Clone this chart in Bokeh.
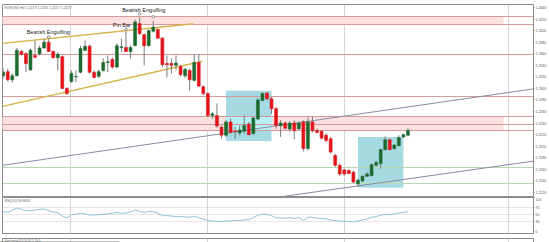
import numpy as np
from bokeh.plotting import figure
from bokeh.models import Range1d, FixedTicker, NumeralTickFormatter, Label
from bokeh.layouts import column
from bokeh.embed import file_html
from bokeh.resources import INLINE
from bokeh.core.properties import value

# ---------------- data (EURUSD, H4) ----------------
opens = [1.2322, 1.2329, 1.2315, 1.2322, 1.2364, 1.2360, 1.2332, 1.2357, 1.2360, 1.2370,
         1.2380, 1.2364, 1.2353, 1.2355, 1.2300, 1.2312, 1.2320, 1.2328, 1.2366, 1.2373,
         1.2328, 1.2321, 1.2331, 1.2345, 1.2350, 1.2337, 1.2371, 1.2371, 1.2364, 1.2374,
         1.2412, 1.2393, 1.2374, 1.2399, 1.2402, 1.2387, 1.2343, 1.2343, 1.2340, 1.2338,
         1.2322, 1.2331, 1.2314, 1.2345, 1.2303, 1.2291, 1.2253, 1.2253, 1.2233, 1.2219,
         1.2242, 1.2226, 1.2223, 1.2226, 1.2238, 1.2222, 1.2247, 1.2279, 1.2292, 1.2282,
         1.2265, 1.2236, 1.2240, 1.2230, 1.2240, 1.2230, 1.2242, 1.2196, 1.2242, 1.2227,
         1.2226, 1.2219, 1.2213, 1.2184, 1.2167, 1.2159, 1.2158, 1.2155, 1.2135, 1.2140,
         1.2148, 1.2149, 1.2167, 1.2170, 1.2194, 1.2211, 1.2196, 1.2201, 1.2216, 1.2219]
highs = [1.2334, 1.2334, 1.2326, 1.2370, 1.2367, 1.2363, 1.2369, 1.2383, 1.2374, 1.2386,
         1.2385, 1.2366, 1.2363, 1.2357, 1.2302, 1.2331, 1.2331, 1.2374, 1.2383, 1.2376,
         1.2331, 1.2333, 1.2352, 1.2357, 1.2354, 1.2378, 1.2386, 1.2398, 1.2374, 1.2419,
         1.2423, 1.2395, 1.2402, 1.2417, 1.2404, 1.2389, 1.2357, 1.2352, 1.2357, 1.2341,
         1.2335, 1.2334, 1.2359, 1.2359, 1.2305, 1.2293, 1.2259, 1.2274, 1.2236, 1.2245,
         1.2248, 1.2233, 1.2236, 1.2253, 1.2242, 1.2251, 1.2283, 1.2293, 1.2293, 1.2285,
         1.2268, 1.2245, 1.2243, 1.2243, 1.2245, 1.2243, 1.2245, 1.2250, 1.2251, 1.2231,
         1.2227, 1.2222, 1.2216, 1.2187, 1.2170, 1.2161, 1.2160, 1.2158, 1.2144, 1.2149,
         1.2155, 1.2170, 1.2175, 1.2196, 1.2217, 1.2213, 1.2204, 1.2219, 1.2222, 1.2231]
lows = [1.2317, 1.2312, 1.2310, 1.2321, 1.2357, 1.2328, 1.2331, 1.2352, 1.2357, 1.2369,
        1.2363, 1.2352, 1.2331, 1.2299, 1.2289, 1.2310, 1.2311, 1.2326, 1.2364, 1.2326,
        1.2318, 1.2318, 1.2329, 1.2328, 1.2334, 1.2335, 1.2363, 1.2363, 1.2352, 1.2373,
        1.2392, 1.2340, 1.2373, 1.2397, 1.2386, 1.2337, 1.2319, 1.2326, 1.2331, 1.2321,
        1.2318, 1.2296, 1.2312, 1.2302, 1.2288, 1.2250, 1.2248, 1.2232, 1.2213, 1.2216,
        1.2222, 1.2213, 1.2219, 1.2222, 1.2219, 1.2219, 1.2245, 1.2278, 1.2280, 1.2256,
        1.2230, 1.2216, 1.2229, 1.2225, 1.2212, 1.2229, 1.2191, 1.2193, 1.2224, 1.2222,
        1.2212, 1.2207, 1.2187, 1.2164, 1.2149, 1.2149, 1.2151, 1.2136, 1.2130, 1.2138,
        1.2147, 1.2148, 1.2165, 1.2161, 1.2193, 1.2193, 1.2194, 1.2200, 1.2215, 1.2217]
closes = [1.2328, 1.2315, 1.2322, 1.2366, 1.2359, 1.2343, 1.2366, 1.2354, 1.2370, 1.2380,
          1.2364, 1.2353, 1.2359, 1.2300, 1.2291, 1.2326, 1.2321, 1.2369, 1.2373, 1.2328,
          1.2319, 1.2329, 1.2345, 1.2346, 1.2337, 1.2374, 1.2372, 1.2364, 1.2371, 1.2415,
          1.2395, 1.2374, 1.2400, 1.2406, 1.2387, 1.2341, 1.2341, 1.2340, 1.2344, 1.2324,
          1.2333, 1.2315, 1.2345, 1.2304, 1.2291, 1.2253, 1.2256, 1.2235, 1.2219, 1.2242,
          1.2224, 1.2225, 1.2228, 1.2236, 1.2220, 1.2249, 1.2280, 1.2291, 1.2282, 1.2265,
          1.2236, 1.2240, 1.2231, 1.2240, 1.2227, 1.2240, 1.2196, 1.2242, 1.2227, 1.2224,
          1.2214, 1.2210, 1.2190, 1.2167, 1.2152, 1.2152, 1.2153, 1.2138, 1.2141, 1.2148,
          1.2152, 1.2168, 1.2172, 1.2194, 1.2211, 1.2194, 1.2202, 1.2215, 1.2220, 1.2227]
rsi = [58.8, 57.0, 63.0, 69.7, 65.6, 62.6, 61.8, 63.8, 65.6, 66.8,
       61.8, 58.0, 55.9, 45.6, 40.3, 50.0, 51.5, 53.8, 52.9, 49.4,
       49.1, 50.0, 50.9, 52.9, 53.8, 56.8, 54.4, 55.0, 57.9, 63.8,
       59.7, 56.8, 59.7, 58.8, 54.4, 47.1, 47.1, 46.2, 44.1, 44.1,
       43.5, 42.1, 45.6, 41.2, 36.8, 32.4, 31.5, 30.3, 29.4, 31.8,
       31.5, 32.4, 33.2, 34.4, 35.3, 41.2, 48.5, 52.0, 50.9, 47.1,
       40.3, 40.3, 39.7, 41.2, 39.1, 41.2, 33.2, 42.6, 42.1, 40.3,
       38.2, 37.4, 34.4, 32.4, 30.9, 30.3, 29.4, 29.4, 30.9, 34.4,
       37.4, 42.1, 44.1, 48.5, 50.9, 50.0, 52.0, 55.0, 56.8, 58.8]

price_ticks = [1.2440, 1.2420, 1.2400, 1.2380, 1.2360, 1.2340, 1.2320, 1.2300, 1.2280,
               1.2260, 1.2240, 1.2220, 1.2200, 1.2180, 1.2160, 1.2140, 1.2120]
rsi_ticks = [100, 70, 50, 30, 0]
rsi_levels = [70, 50, 30]

resistance_levels = [1.2424, 1.2411, 1.2359, 1.2286, 1.2251, 1.2238, 1.2228]
support_levels = [1.2163, 1.2136]
zone_tops = [1.2424, 1.2251]
zone_bottoms = [1.2411, 1.2228]
zone_end_bar = [110, 110]

box_start_bar = [49, 78]
box_end_bar = [59, 88]
box_tops = [1.2296, 1.2216]
box_bottoms = [1.2209, 1.2128]

gold_upper_bars = [-0.15, 41.8]
gold_upper_prices = [1.2378, 1.2412]
gold_lower_bars = [-0.15, 43.8]
gold_lower_prices = [1.2269, 1.2347]
channel_upper_bars = [-0.15, 117.3]
channel_upper_prices = [1.2167, 1.2300]
channel_lower_bars = [61.5, 117.3]
channel_lower_prices = [1.2113, 1.2175]

separator_bars = [14.9, 44.9, 75.1, 111.2]

pattern_labels = ["Bearish Engulfing", "Pin Bar", "Bearish Engulfing"]
pattern_label_bars = [9.9, 26.1, 30.9]
pattern_label_prices = [1.2397, 1.2409, 1.24365]
signal_bars = [10, 27, 30, 33]
signal_prices = [1.2389, 1.2402, 1.2429, 1.2424]

# ---------------- styling ----------------
FONT = "Liberation Sans"
GREEN = "#1d6a2f"
RED = "#e3141b"
WICK = "#7a7a7a"
FRAME = "#8c8c8c"
TICK_FS = "3.5px"

bars = np.arange(len(opens))
o = np.array(opens); c = np.array(closes)
body_top = np.maximum(o, c)
body_bot = np.minimum(o, c)
body_col = [GREEN if cc >= oo else RED for oo, cc in zip(opens, closes)]

x_range = Range1d(-0.15, 116.6)


def base_fig(height, y_range, top, bottom):
    f = figure(width=549, height=height, x_range=x_range, y_range=y_range,
               output_backend="svg", toolbar_location=None,
               x_axis_location=None, y_axis_location="right",
               min_border_left=2, min_border_right=13,
               min_border_top=top, min_border_bottom=bottom,
               background_fill_color="white", border_fill_color="white",
               outline_line_color=FRAME, outline_line_width=1)
    f.grid.visible = False
    ax = f.yaxis[0]
    ax.major_label_text_font_size = TICK_FS
    ax.major_label_text_font = FONT
    ax.major_label_text_color = "#555555"
    ax.major_tick_out = 1
    ax.major_tick_in = 0
    ax.minor_tick_out = 0
    ax.minor_tick_in = 0
    ax.major_label_standoff = 1
    ax.axis_line_color = FRAME
    ax.major_tick_line_color = FRAME
    f.vspan(x=separator_bars, line_color="#a8a8a8", line_dash="1 1", line_width=1)
    return f


# ---------------- main price panel ----------------
p = base_fig(197, Range1d(1.21130, 1.24452), 4, 1)
p.yaxis.ticker = FixedTicker(ticks=price_ticks)
p.yaxis.formatter = NumeralTickFormatter(format="0.0000")

# resistance zones
p.quad(left=[-1] * len(zone_tops), right=zone_end_bar, top=zone_tops, bottom=zone_bottoms,
       fill_color="#fde1e0", line_color=None)
# pattern boxes
p.quad(left=box_start_bar, right=box_end_bar, top=box_tops, bottom=box_bottoms,
       fill_color="#a6dae3", line_color=None)
# overlap of first box and lower zone (lighter)
p.quad(left=[box_start_bar[0]], right=[box_end_bar[0]],
       top=[min(box_tops[0], zone_tops[1])], bottom=[max(box_bottoms[0], zone_bottoms[1])],
       fill_color="#b6eff5", line_color=None)

p.hspan(y=resistance_levels, line_color="#d59b9b", line_width=1)
p.hspan(y=support_levels, line_color="#b8d8b2", line_width=1)

p.line(gold_upper_bars, gold_upper_prices, line_color="#d6b24a", line_width=1.4)
p.line(gold_lower_bars, gold_lower_prices, line_color="#d6b24a", line_width=1.4)
p.line(channel_upper_bars, channel_upper_prices, line_color="#8a8aa2", line_width=1)
p.line(channel_lower_bars, channel_lower_prices, line_color="#8a8aa2", line_width=1)

# candles
p.segment(x0=bars, y0=lows, x1=bars, y1=highs, line_color=WICK, line_width=1)
p.vbar(x=bars, width=0.64, top=body_top, bottom=body_bot,
       fill_color=body_col, line_color=body_col, line_width=0.6)

# pattern markers & labels
p.scatter(signal_bars, signal_prices, marker="circle", size=2.6,
          line_color="#777777", fill_color="white", line_width=0.8)
p.text(x=pattern_label_bars, y=pattern_label_prices, text=pattern_labels,
       text_align="center", text_baseline="middle",
       text_font=value(FONT), text_font_size="5.5px", text_color="#202020")

# level price tags on the axis
for lv in resistance_levels:
    p.add_layout(Label(x=x_range.end, y=lv, x_offset=0.5, text=f"{lv:.4f}",
                       text_font=FONT, text_font_size=TICK_FS, text_color="white",
                       text_baseline="middle", text_align="left",
                       background_fill_color="#e2353c"))
for lv in support_levels:
    p.add_layout(Label(x=x_range.end, y=lv, x_offset=0.5, text=f"{lv:.4f}",
                       text_font=FONT, text_font_size=TICK_FS, text_color="white",
                       text_baseline="middle", text_align="left",
                       background_fill_color="#2c8a3b"))

p.add_layout(Label(x=x_range.start, y=1.24452, x_offset=2, y_offset=-1,
                   text=f"EURUSD,H4  {opens[-1]:.4f} {highs[-1]:.4f} {lows[-1]:.4f} {closes[-1]:.4f}",
                   text_font=FONT, text_font_size=TICK_FS, text_color="#666666",
                   text_baseline="top", text_align="left"))

# ---------------- RSI panel ----------------
r = base_fig(37, Range1d(-5.9, 101), 0, 1)
r.yaxis.ticker = FixedTicker(ticks=rsi_ticks)
r.hspan(y=rsi_levels, line_color="#cfcfcf", line_dash="1 1", line_width=1)
r.line(bars, rsi, line_color="#8ec2d8", line_width=1)
r.add_layout(Label(x=x_range.start, y=101, x_offset=2, y_offset=-1,
                   text=f"RSI(14) {rsi[-1]:.4f}", text_font=FONT,
                   text_font_size=TICK_FS, text_color="#666666",
                   text_baseline="top", text_align="left"))

# ---------------- bottom indicator strip ----------------
b = base_fig(8, Range1d(-10, 101), 0, 0)
b.yaxis.ticker = FixedTicker(ticks=[])
b.quad(left=[-5], right=[25.6], bottom=[-500], top=[50], fill_color="#3a3a3a",
       line_color="#3a3a3a", level="overlay")
b.add_layout(Label(x=x_range.start, y=101, x_offset=2, y_offset=-0.5,
                   text="Stochastic(5,3,3) 82.1 76.4", text_font=FONT,
                   text_font_size="3px", text_color="#666666",
                   text_baseline="top", text_align="left"))

layout = column(p, r, b, spacing=0)
open("out.html", "w").write(file_html(layout, INLINE))
